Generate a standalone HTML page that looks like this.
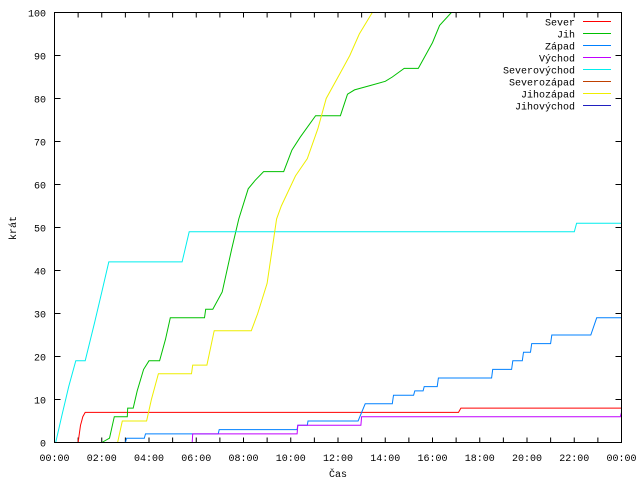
<!DOCTYPE html>
<html><head><meta charset="utf-8"><style>
html,body{margin:0;padding:0;background:#fff}
svg text{font-family:"Liberation Mono","DejaVu Sans Mono",monospace;font-size:10px;fill:#000}
</style></head><body>
<svg id="chart" width="640" height="480" xmlns="http://www.w3.org/2000/svg">
<rect x="0" y="0" width="640" height="480" fill="#fff"/>
<g id="grid"></g>
<g id="series"></g>
<g id="legend"></g>
<rect x="54.5" y="12.5" width="567" height="430" fill="none" stroke="#000"/>
<text transform="translate(16,228) rotate(-90)" text-anchor="middle">krát</text>
<text x="338" y="477" text-anchor="middle">Čas</text>
</svg>
<script>
const names = ["Sever","Jih","Západ","Východ","Severovýchod","Severozápad","Jihozápad","Jihovýchod"];
const colors = ["#ff0000","#00c000","#0080ff","#c000ff","#00eeee","#c04000","#eeee00","#2020c0"];
const yTicks = [0,10,20,30,40,50,60,70,80,90,100];
const xTickLabels = ["00:00","02:00","04:00","06:00","08:00","10:00","12:00","14:00","16:00","18:00","20:00","22:00","00:00"];
// step series: [hour, value]
const sever = [[1.0,0],[1.05,2],[1.1,4],[1.15,5],[1.2,6],[1.3,7],[17.1,7],[17.2,8],[24,8]];
const jih = [[2.0,0],[2.33,1],[2.53,6],[3.08,6],[3.1,8],[3.33,8],[3.5,12],[3.77,17],[4.0,19],[4.45,19],[4.7,24],[4.9,29],[6.35,29],[6.4,31],[6.7,31],[7.1,35],[7.5,45],[7.8,52],[8.2,59],[8.5,61],[8.85,63],[9.7,63],[10.05,68],[10.4,71],[11.05,76],[12.1,76],[12.4,81],[12.7,82],[13.35,83],[14.0,84],[14.3,85],[14.8,87],[15.4,87],[15.7,90],[16.0,93],[16.3,97],[16.8,100]];
const zapad = [[3.0,0],[3.05,1],[3.8,1],[3.85,2],[6.93,2],[6.97,3],[10.27,3],[10.3,4],[10.7,4],[10.73,5],[12.85,5],[13.15,9],[14.3,9],[14.35,11],[15.2,11],[15.25,12],[15.6,12],[15.65,13],[16.2,13],[16.25,15],[18.5,15],[18.55,17],[19.35,17],[19.4,19],[19.8,19],[19.85,21],[20.15,21],[20.2,23],[21.0,23],[21.05,25],[22.7,25],[22.95,29],[24,29]];
const vychod = [[5.83,0],[5.85,2],[10.27,2],[10.3,4],[12.97,4],[13.0,6],[23.95,6],[24,7]];
const severovychod = [[0.05,0],[0.3,6],[0.6,13],[0.9,19],[1.3,19],[1.7,28],[2.0,35],[2.3,42],[5.4,42],[5.7,49],[22.0,49],[22.1,51],[24,51]];
const severozapad = [];
const jihozapad = [[2.67,0],[2.87,5],[3.9,5],[4.1,10],[4.4,16],[5.8,16],[5.85,18],[6.45,18],[6.76,26],[8.33,26],[8.6,30],[9.0,37],[9.4,52],[9.6,55],[10.2,62],[10.7,66],[11.15,73],[11.5,80],[12.1,86],[12.5,90],[12.9,95],[13.45,100]];
const jihovychod = [];
const allSeries = [sever,jih,zapad,vychod,severovychod,severozapad,jihozapad,jihovychod];

const X0=54.5, X1=621.5, Y0=442.5, Y1=12.5;
const xs = h => X0 + h/24*(X1-X0);
const ys = v => Y0 - v/100*(Y0-Y1);
const NS="http://www.w3.org/2000/svg";
function mk(tag, attrs, parent){const e=document.createElementNS(NS,tag);for(const k in attrs)e.setAttribute(k,attrs[k]);parent.appendChild(e);return e;}

const grid=document.getElementById('grid');
yTicks.forEach((t)=>{
  const y=ys(t);
  const tk=mk('path',{d:`M${X0},${y}h6M${X1},${y}h-6`,stroke:'#000'},grid);
  
  
  const lb=mk('text',{x:46,y:y+4,'text-anchor':'end'},grid);
  lb.textContent=t;
  
  
});
for(let h=0;h<=24;h++){
  const x=xs(h);
  const tk=mk('path',{d:`M${x},${Y0}v-5M${x},${Y1}v5`,stroke:'#000'},grid);
  
  
}
xTickLabels.forEach((s,i)=>{
  const lb=mk('text',{x:xs(i*2),y:461,'text-anchor':'middle'},grid);
  lb.textContent=s;
  
  
});

const sg=document.getElementById('series');
allSeries.forEach((pts,i)=>{
  if(!pts.length) return;
  let d='';
  pts.forEach((p,j)=>{
    let v=Math.min(p[1],100);
    d+=(j?'L':'M')+xs(p[0]).toFixed(1)+','+ys(v).toFixed(1);
  });
  const pl=mk('path',{d:d,fill:'none',stroke:colors[i],'stroke-width':1},sg);
  
  
});

const lg=document.getElementById('legend');
names.forEach((n,i)=>{
  const y=21.5+i*12;
  const t=mk('text',{x:575,y:y+4,'text-anchor':'end'},lg);
  t.textContent=n;
  
  
  const l=mk('path',{d:`M583,${y}H611`,stroke:colors[i]},lg);
  
  
});
</script>
</body></html>
